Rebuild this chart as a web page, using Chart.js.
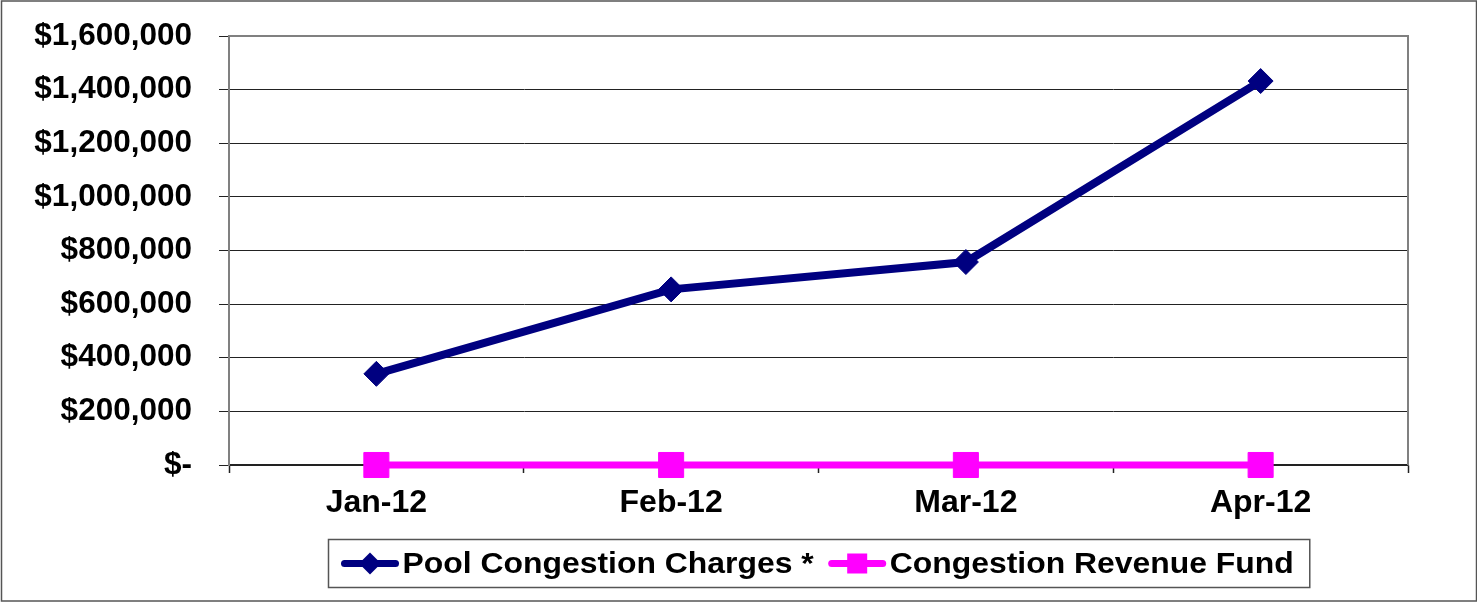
<!DOCTYPE html>
<html>
<head>
<meta charset="utf-8">
<script src="https://cdn.jsdelivr.net/npm/chart.js@4"></script>
<style>
  html, body { margin: 0; padding: 0; background: #fff; }
  #wrap { width: 1477px; height: 602px; }
</style>
</head>
<body>
<div id="wrap"><canvas id="chart" width="1477" height="602"></canvas></div>
<script>
let months = ['Jan-12', 'Feb-12', 'Mar-12', 'Apr-12'];
let poolCharges = [340000, 655000, 757000, 1432000];
let revenueFund = [0, 0, 0, 0];
let yMax = 1600000;
let yStep = 200000;

let font = '"Liberation Sans", Arial, sans-serif';

function money(value) {
    if (value == 0) return '$-';
    return '$' + value.toLocaleString('en-US');
}

// frame round the whole picture and the grey top/right of the plot area
const framePlugin = {
    id: 'frame',
    beforeDatasetsDraw: (chart) => {
        const ctx = chart.ctx;
        const a = chart.chartArea;
        ctx.save();
        ctx.strokeStyle = '#808080';
        ctx.lineWidth = 2;
        ctx.beginPath();
        ctx.moveTo(a.left, a.top);
        ctx.lineTo(a.right, a.top);
        ctx.lineTo(a.right, a.bottom);
        ctx.stroke();
        ctx.restore();
    },
    afterDraw: (chart) => {
        const ctx = chart.ctx;
        ctx.save();
        ctx.strokeStyle = '#555';
        ctx.lineWidth = 1.5;
        ctx.strokeRect(1.5, 1, chart.width - 2, chart.height - 2);
        ctx.restore();
    }
};

// Excel style legend: line + marker, in a bordered box under the plot
const legendPlugin = {
    id: 'boxLegend',
    afterDraw: (chart) => {
        const ctx = chart.ctx;
        const a = chart.chartArea;
        const sets = chart.data.datasets;
        const stretch = 1.1;
        const symW = 57, gap = 4, itemGap = 15, padL = 13, padR = 16;
        ctx.save();
        ctx.font = 'bold 29px ' + font;
        let widths = sets.map(d => ctx.measureText(d.label).width * stretch);
        let total = padL + padR;
        widths.forEach((w, i) => { total += symW + gap + w + (i > 0 ? itemGap : 0); });
        let left = Math.round((a.left + a.right) / 2 - total / 2) + 0.5;
        let top = 539.5, h = 48;
        let cy = top + h / 2;

        ctx.strokeStyle = '#555';
        ctx.lineWidth = 1.5;
        ctx.strokeRect(left, top, total, h);

        let x = left + padL;
        sets.forEach((d, i) => {
            if (i > 0) x += itemGap;
            ctx.strokeStyle = d.borderColor;
            ctx.lineWidth = 7;
            ctx.lineCap = 'round';
            ctx.beginPath();
            ctx.moveTo(x + 3, cy);
            ctx.lineTo(x + symW - 3, cy);
            ctx.stroke();
            ctx.fillStyle = d.pointBackgroundColor;
            let mx = x + symW / 2;
            if (d.pointStyle == 'rectRot') {
                ctx.beginPath();
                ctx.moveTo(mx, cy - 11);
                ctx.lineTo(mx + 11, cy);
                ctx.lineTo(mx, cy + 11);
                ctx.lineTo(mx - 11, cy);
                ctx.closePath();
                ctx.fill();
            } else {
                ctx.fillRect(mx - 10, cy - 10, 20, 20);
            }
            x += symW + gap;
            ctx.fillStyle = '#000';
            ctx.textBaseline = 'middle';
            ctx.save();
            ctx.translate(x, cy + 1);
            ctx.scale(stretch, 1);
            ctx.fillText(d.label, 0, 0);
            ctx.restore();
            x += widths[i];
        });
        ctx.restore();
    }
};

const config = {
    type: 'line',
    data: {
        labels: months,
        datasets: [
            {
                label: 'Pool Congestion Charges *',
                data: poolCharges,
                borderColor: '#000080',
                backgroundColor: '#000080',
                pointBackgroundColor: '#000080',
                pointBorderColor: '#000080',
                borderWidth: 8,
                pointStyle: 'rectRot',
                pointRadius: 12.5,
                pointBorderWidth: 1,
                tension: 0,
                clip: false
            },
            {
                label: 'Congestion Revenue Fund',
                data: revenueFund,
                borderColor: '#ff00ff',
                backgroundColor: '#ff00ff',
                pointBackgroundColor: '#ff00ff',
                pointBorderColor: '#ff00ff',
                borderWidth: 7,
                pointStyle: 'rect',
                pointRadius: 17.7,
                pointBorderWidth: 1,
                tension: 0,
                clip: false
            }
        ]
    },
    options: {
        responsive: false,
        animation: false,
        layout: {
            padding: { left: 0, top: 36, right: 69, bottom: 77 }
        },
        plugins: {
            legend: { display: false },
            tooltip: { enabled: false }
        },
        scales: {
            x: {
                type: 'category',
                offset: true,
                grid: {
                    offset: true,
                    drawOnChartArea: false,
                    drawTicks: true,
                    tickLength: 8,
                    tickColor: '#222',
                    tickWidth: 1.5
                },
                border: { color: '#222', width: 1.5 },
                ticks: {
                    color: '#000',
                    padding: 11,
                    font: { family: font, size: 32, weight: 'bold' }
                },
                afterFit: (scale) => { scale.height = 60; }
            },
            y: {
                min: 0,
                max: yMax,
                ticks: {
                    stepSize: yStep,
                    color: '#000',
                    padding: 27,
                    font: { family: font, size: 31.5, weight: 'bold' },
                    callback: function (value) { return money(value); }
                },
                grid: {
                    color: '#222',
                    lineWidth: 1,
                    tickLength: 10,
                    tickColor: '#222'
                },
                border: { color: '#808080', width: 2 },
                afterFit: (scale) => {
                    scale.width = 229;
                    scale.paddingTop = 0;
                    scale.paddingBottom = 0;
                }
            }
        }
    },
    plugins: [framePlugin, legendPlugin]
};

let chart = new Chart(document.getElementById('chart'), config);
</script>
</body>
</html>
